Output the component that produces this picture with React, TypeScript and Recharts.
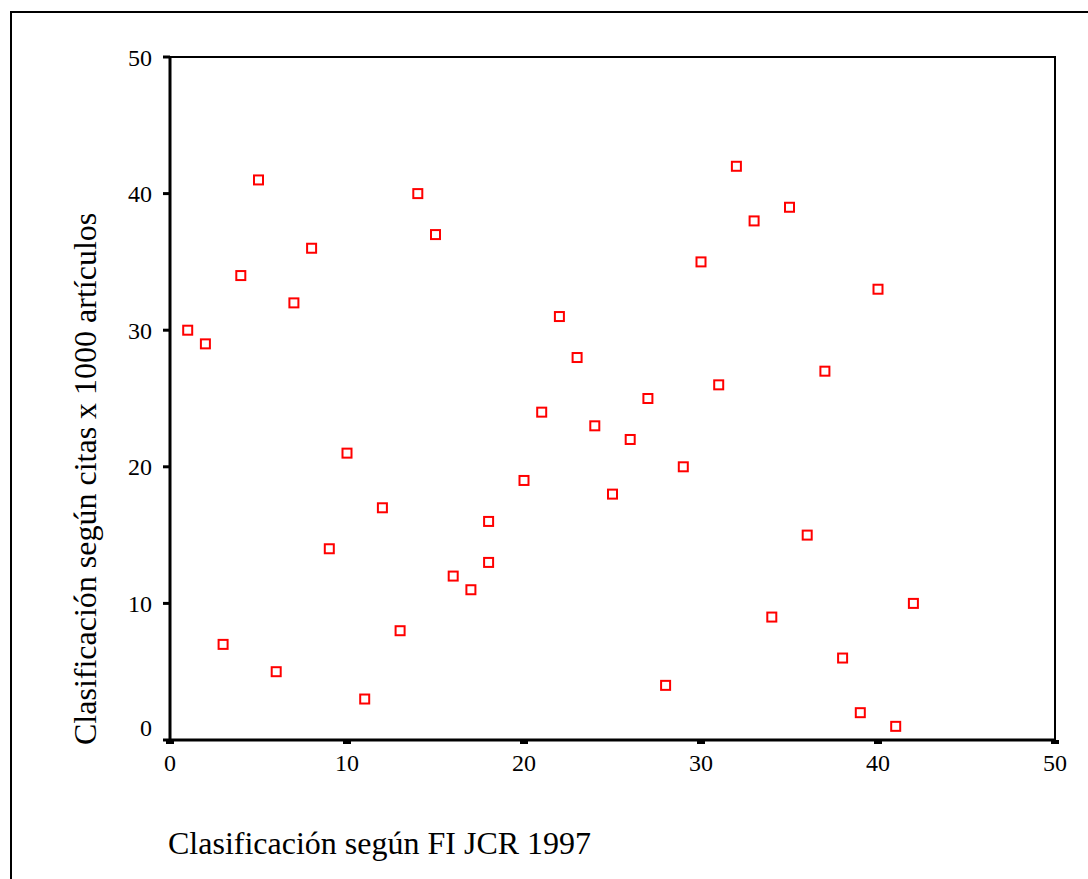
import React from 'react';
import { ScatterChart, Scatter, XAxis, YAxis, ReferenceArea } from 'recharts';

// Clasificación según FI JCR 1997 (x) vs. clasificación según citas x 1000 artículos (y)
const rankFI = [1, 2, 3, 4, 5, 6, 7, 8, 9, 10, 11, 12, 13, 14, 15, 16, 17, 18, 18, 20, 21, 22, 23, 24, 25, 26, 27, 28, 29, 30, 31, 32, 33, 34, 35, 36, 37, 38, 39, 40, 41, 42];
const rankCitas = [30, 29, 7, 34, 41, 5, 32, 36, 14, 21, 3, 17, 8, 40, 37, 12, 11, 16, 13, 19, 24, 31, 28, 23, 18, 22, 25, 4, 20, 35, 26, 42, 38, 9, 39, 15, 27, 6, 2, 33, 1, 10];
const xTicks = [0, 10, 20, 30, 40, 50];
const yTicks = [0, 10, 20, 30, 40, 50];
const xTitle = 'Clasificación según FI JCR 1997';
const yTitle = 'Clasificación según citas x 1000 artículos';

const points = rankFI.map((x, i) => ({ x, y: rankCitas[i] }));

const FONT = "'Liberation Serif', 'Times New Roman', serif";
const textStyle: React.CSSProperties = { fontFamily: FONT, fontSize: 24 };

const YTick = (props: any) => {
  const { x, y, payload } = props;
  const shift = payload.value === 0 ? -13 : 0;
  return (
    <text x={x} y={y + shift} dy="0.355em" textAnchor="end" style={textStyle} fill="#000">
      {payload.value}
    </text>
  );
};

const XTick = (props: any) => {
  const { x, y, payload } = props;
  return (
    <text x={x} y={y} dy="0.71em" textAnchor="middle" style={textStyle} fill="#000">
      {payload.value}
    </text>
  );
};

const SquareMark = (props: any) => {
  const { cx, cy } = props;
  if (cx == null || cy == null) return null;
  return <rect x={cx - 4.5} y={cy - 4.5} width={9} height={9} fill="#fff" stroke="#ff0000" strokeWidth={2} />;
};

export default function App() {
  return (
    <div style={{ position: 'absolute', left: 0, top: 0, width: 1088, height: 879, overflow: 'hidden', background: '#fff', fontFamily: FONT }}>
      <div
        style={{
          position: 'absolute',
          left: 10,
          top: 11,
          width: 1200,
          height: 1000,
          borderLeft: '2px solid #000',
          borderTop: '2px solid #000',
        }}
      />
      <div style={{ position: 'absolute', left: 0, top: 0 }}>
        <ScatterChart width={1088} height={879} margin={{ top: 57, right: 33, left: 110, bottom: 99 }} style={{ fontFamily: FONT }}>
          <XAxis
            type="number"
            dataKey="x"
            domain={[0, 50]}
            ticks={xTicks}
            height={40}
            axisLine={{ stroke: '#000', strokeWidth: 3 }}
            tickLine={{ stroke: '#000', strokeWidth: 8 }}
            tickSize={4}
            tickMargin={10}
            tick={<XTick />}
            interval={0}
          />
          <YAxis
            type="number"
            dataKey="y"
            domain={[0, 50]}
            ticks={yTicks}
            width={60}
            axisLine={{ stroke: '#000', strokeWidth: 3 }}
            tickLine={{ stroke: '#000', strokeWidth: 3 }}
            tickSize={7}
            tickMargin={11}
            tick={<YTick />}
            interval={0}
          />
          <ReferenceArea x1={0} x2={50} y1={0} y2={50} fill="none" stroke="#000" strokeWidth={2} fillOpacity={0} />
          <Scatter data={points} shape={<SquareMark />} isAnimationActive={false} />
          <text x={168} y={854} style={{ fontFamily: FONT, fontSize: 32 }} fill="#000">
            {xTitle}
          </text>
          <text x={96} y={745} transform="rotate(-90 96 745)" style={{ fontFamily: FONT, fontSize: 32 }} fill="#000">
            {yTitle}
          </text>
        </ScatterChart>
      </div>
    </div>
  );
}
